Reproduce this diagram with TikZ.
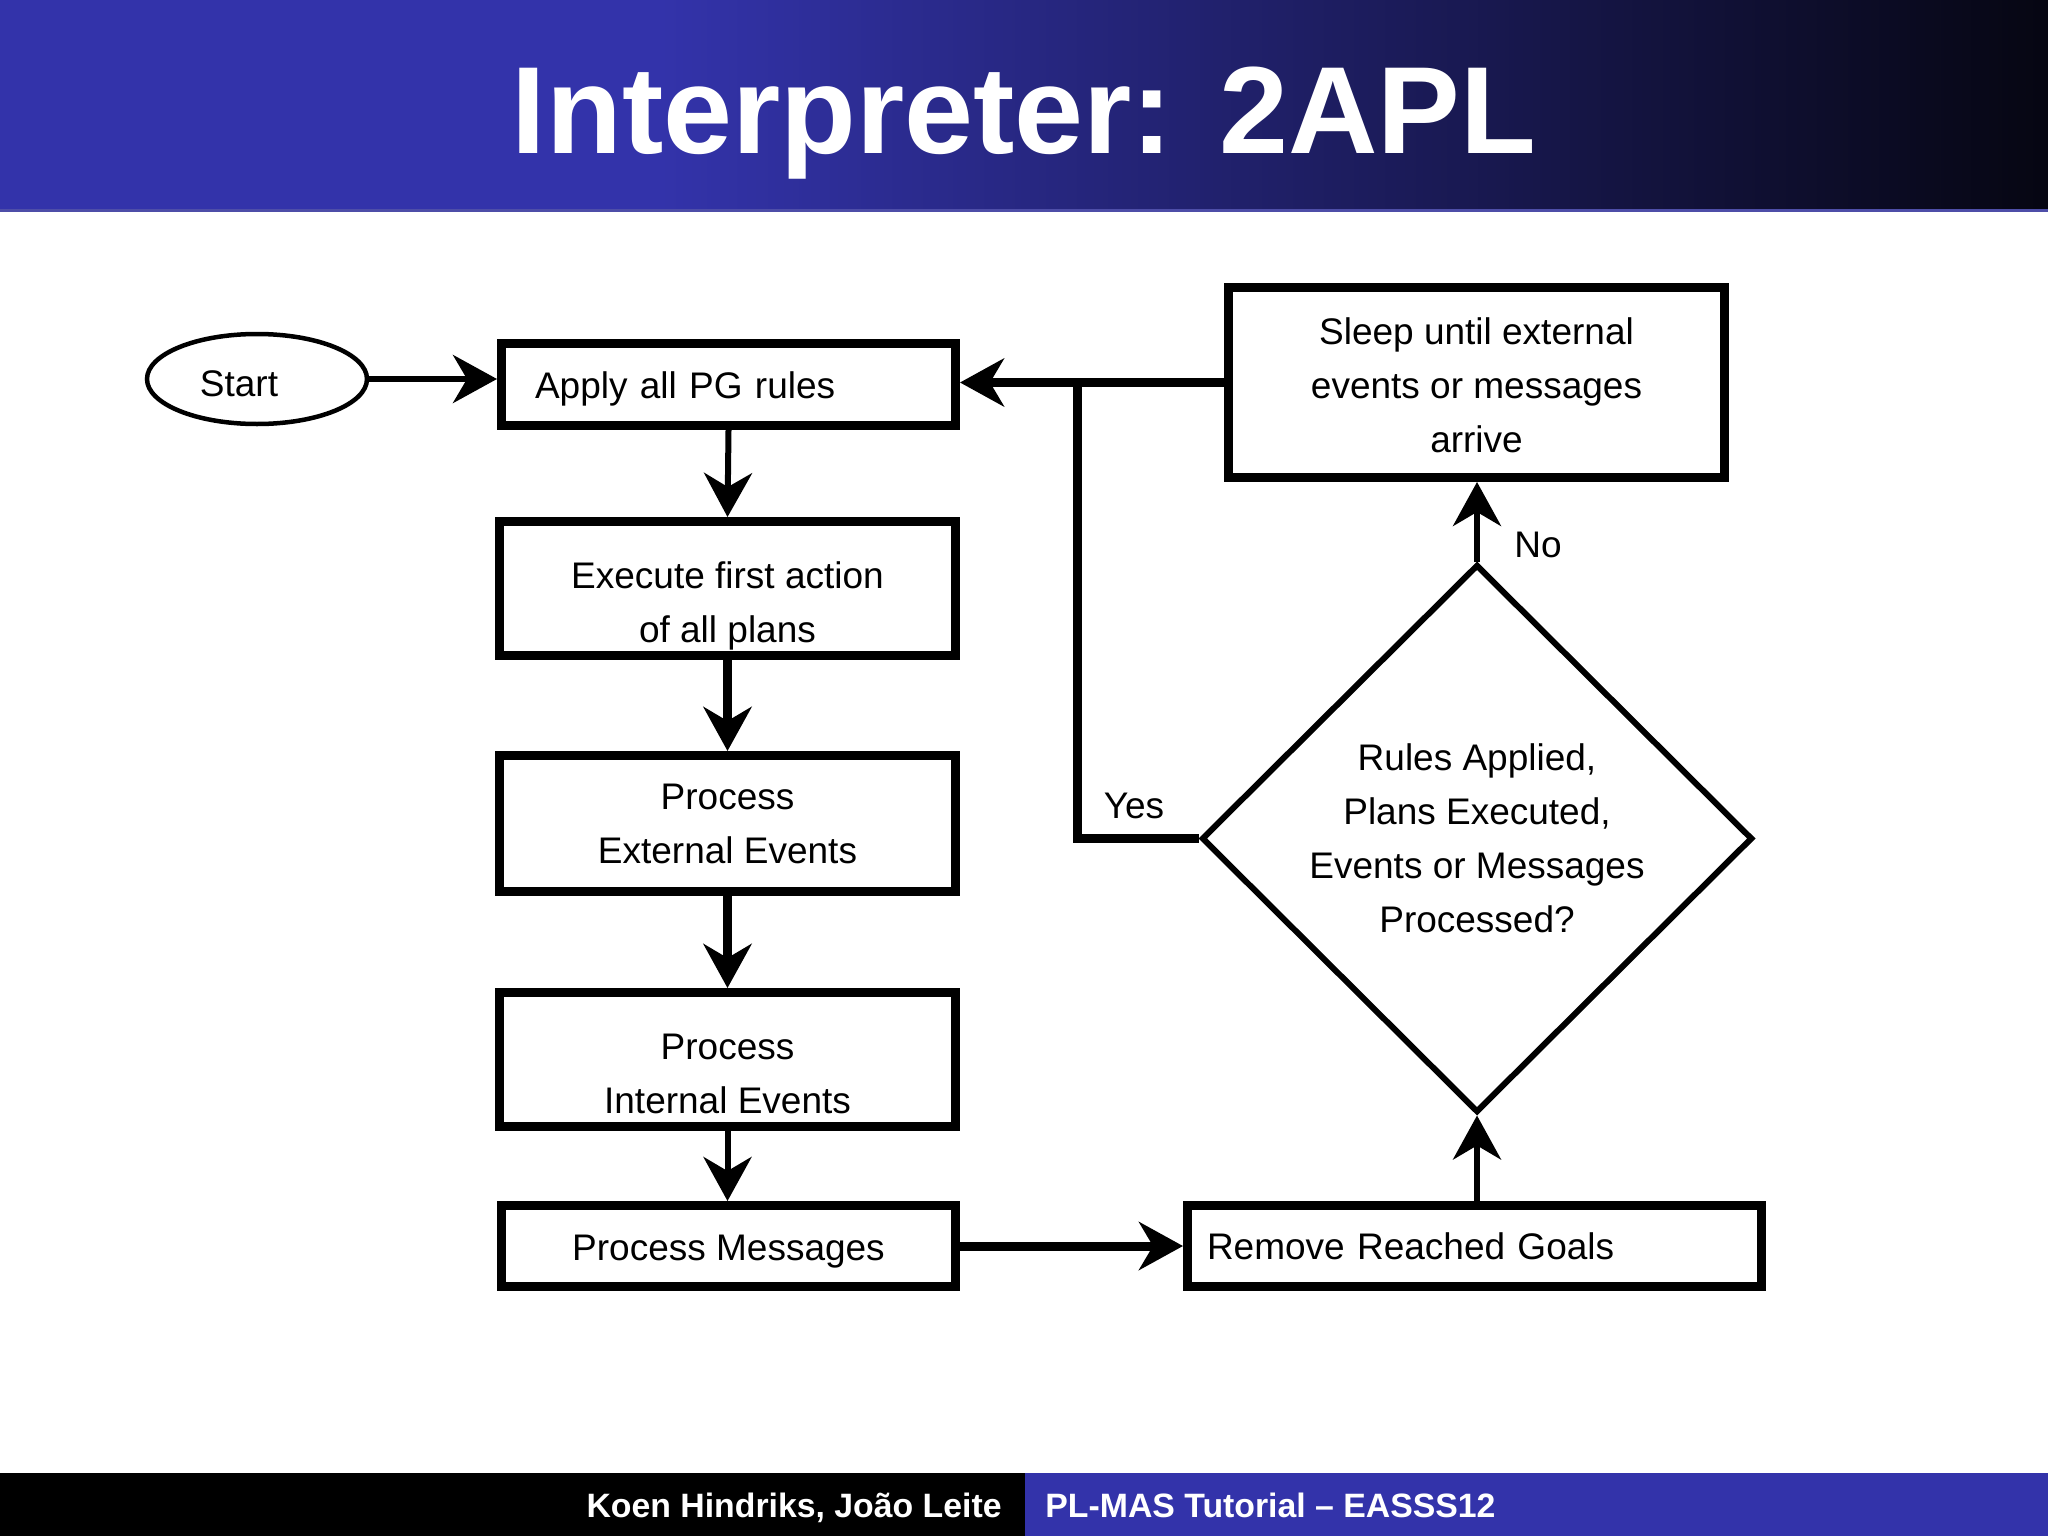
\documentclass[tikz,border=0pt]{standalone}
\usepackage{fontspec}
\setmainfont{Liberation Sans}
\usetikzlibrary{arrows.meta,shapes.geometric,calc}
\definecolor{slideblue}{RGB}{51,51,170}
\definecolor{slidedark}{RGB}{6,6,18}
\definecolor{barline}{RGB}{78,78,168}
\newcommand\dropby[1]{\rule{0pt}{\dimexpr 13.6pt+#1\relax}}
\begin{document}
\begin{tikzpicture}[x=0.5pt,y=-0.5pt,
  txt/.style={font=\fontsize{18.5}{27}\selectfont, text=black},
  box/.style={txt, draw=black, line width=4.5pt, fill=white, align=center, inner sep=0pt},
  thinarrow/.style={line width=3pt, -{Stealth[length=22pt,width=24pt,inset=7pt]}},
  thickarrow/.style={line width=4.5pt, -{Stealth[length=22pt,width=24pt,inset=7pt]}},
  thickline/.style={line width=4.5pt, line join=miter},
  lbl/.style={txt, inner sep=0pt}
]
\useasboundingbox (0,0) rectangle (2048,1536);
% title bar
\fill[slideblue] (0,0) rectangle (662,211);
\shade[left color=slideblue, right color=slidedark] (660,0) rectangle (2048,211);
\fill[barline] (0,208.5) rectangle (2048,211.5);
\node[anchor=base, text=white, font=\fontsize{62}{70}\selectfont\bfseries, inner sep=0pt] (title) at (1024,154) {Interpreter: 2APL};
% footer
\fill[black] (0,1473) rectangle (1025,1536);
\fill[slideblue] (1025,1473) rectangle (2048,1536);
\node[anchor=base east, text=white, font=\fontsize{16.9}{20}\selectfont\bfseries, inner sep=0pt] (authors) at (1002,1517) {Koen Hindriks, João Leite};
\node[anchor=base west, text=white, font=\fontsize{16.9}{20}\selectfont\bfseries, inner sep=0pt] (event) at (1045,1517) {PL-MAS Tutorial – EASSS12};
% nodes
\node[txt, draw=black, line width=2.25pt, ellipse, minimum width=110pt, minimum height=45pt, inner sep=0pt] (start) at (257,379) {\dropby{4pt}Start\kern18pt};
\node[box, minimum width=227pt, minimum height=41pt, inner xsep=16.75pt, text width=193.5pt, align=left] (apply) at (728.5,384.5) {\dropby{4pt}Apply all PG rules};
\node[box, minimum width=228pt, minimum height=67pt] (exec) at (727.5,588.5) {\dropby{17pt}Execute first action\\of all plans};
\node[box, minimum width=228pt, minimum height=68pt] (ext) at (727.5,823.5) {Process\\External Events};
\node[box, minimum width=228pt, minimum height=67pt] (int) at (727.5,1059.5) {\dropby{14pt}Process\\Internal Events};
\node[box, minimum width=227pt, minimum height=40.5pt] (msg) at (728.5,1246) {\dropby{5pt}Process Messages};
\node[box, minimum width=287pt, minimum height=40.5pt, inner xsep=9.75pt, text width=267.5pt, align=left] (rem) at (1474.5,1246) {Remove Reached Goals};
\node[box, minimum width=248pt, minimum height=95pt] (sleep) at (1476.5,382.5) {\dropby{3pt}Sleep until external\\events or messages\\arrive};
\node[txt, draw=black, line width=3pt, diamond, aspect=1, minimum width=275.5pt, minimum height=274pt, inner sep=0pt, align=center] (dia) at (1477,838.5) {Rules Applied,\\Plans Executed,\\Events or Messages\\Processed?};
\coordinate (j) at (1077,383);
% connectors
\draw[thinarrow] (start.east) -- (start.east -| apply.west);
\draw[thinarrow] (apply.south) -- (exec.north);
\draw[thickarrow] (exec.south) -- (ext.north);
\draw[thickarrow] (ext.south) -- (int.north);
\draw[thinarrow] (int.south) -- (int.south |- msg.north);
\draw[thickarrow] (msg.east) -- (rem.west);
\draw[thinarrow] (dia.south |- rem.north) -- (dia.south);
\draw[thinarrow] (dia.north) -- (dia.north |- sleep.south);
\draw[thickarrow] (sleep.west) -- (apply.east |- sleep.west);
\draw[thickline] (dia.west) -| (j);
% labels
\node[lbl] (yes) at (1134,806) {Yes};
\node[lbl] (no) at (1538,545) {No};
\end{tikzpicture}
\end{document}
